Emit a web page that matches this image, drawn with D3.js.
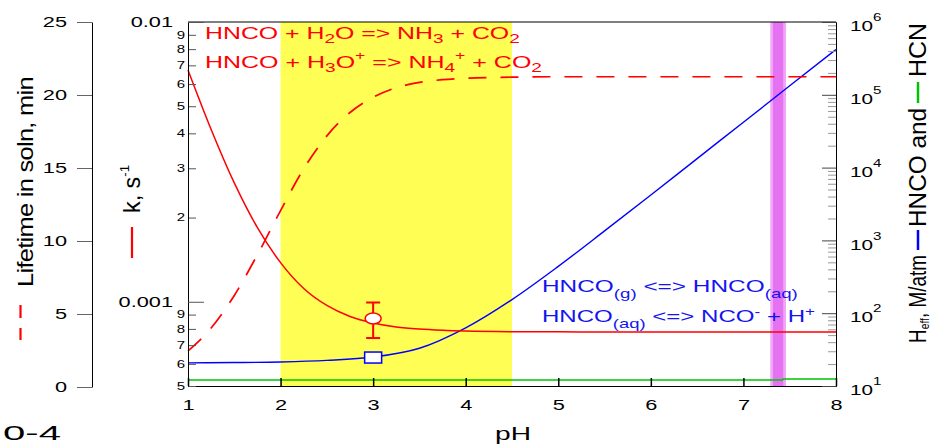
<!DOCTYPE html>
<html>
<head>
<meta charset="utf-8">
<script src="https://cdn.jsdelivr.net/npm/d3@7"></script>
<style>
  body { margin: 0; background: #fff; }
  svg { display: block; }
  text { font-family: "Liberation Sans", Arial, sans-serif; white-space: pre; }
</style>
</head>
<body>
<div id="container"></div>
<script>
// ---- data ----
// pH grid for the two red curves
let pH = [1, 1.25, 1.5, 1.75, 2, 2.25, 2.5, 2.75, 3, 3.25, 3.5, 3.75, 4, 4.5, 5, 5.5, 6, 6.5, 7, 7.5, 8];
// k, s^-1 (solid red, left log axis)
let kValues = [6.74e-3, 4.13e-3, 2.66e-3, 1.84e-3, 1.38e-3, 1.115e-3, 9.7e-4, 8.86e-4, 8.4e-4, 8.13e-4, 7.99e-4,
               7.91e-4, 7.86e-4, 7.82e-4, 7.81e-4, 7.8e-4, 7.8e-4, 7.8e-4, 7.8e-4, 7.8e-4, 7.8e-4];
// lifetime in solution, min (dashed red, far left linear axis)
let lifetimeValues = [2.47, 4.04, 6.27, 9.06, 12.08, 14.95, 17.2, 18.8, 19.84, 20.5, 20.86,
                      21.05, 21.15, 21.22, 21.25, 21.25, 21.25, 21.25, 21.25, 21.25, 21.25];

// H_eff of HNCO, M/atm (blue, right log axis)
let pHBlue = [1, 1.5, 2, 2.5, 3, 3.5, 4, 4.5, 5, 5.5, 6, 6.5, 7, 7.5, 8];
let hncoValues = [20.8, 21, 21.4, 22.5, 25, 33, 63, 154, 440, 1350, 4200, 13300, 42000, 133000, 420000];

// H_eff of HCN, M/atm (green)
let pHGreen = [1, 7.42, 7.43, 8];
let hcnValues = [12.1, 12.1, 12.5, 12.5];

// measured points at pH 3
let pointPH = 3;
let circleK = 8.72e-4;
let circleKLow = 7.42e-4;
let circleKHigh = 9.94e-4;
let squareH = 24.6;

// shaded pH ranges
let yellowBand = [2, 4.5];
let magentaBand = [7.29, 7.46];
let magentaCore = [7.32, 7.43];

// ticks
let xTicks = [1, 2, 3, 4, 5, 6, 7, 8];
let xTickLabels = ["1", "2", "3", "4", "5", "6", "7", "8"];
let lifeTicks = [0, 5, 10, 15, 20, 25];
let kMajorTicks = [0.001, 0.01];
let kMajorLabels = ["0.001", "0.01"];
let kMinorTicks = [5e-4, 6e-4, 7e-4, 8e-4, 9e-4, 2e-3, 3e-3, 4e-3, 5e-3, 6e-3, 7e-3, 8e-3, 9e-3];
let kMinorLabels = ["5", "6", "7", "8", "9", "2", "3", "4", "5", "6", "7", "8", "9"];
let hMajorTicks = [1e1, 1e2, 1e3, 1e4, 1e5, 1e6];
let hExponents = ["1", "2", "3", "4", "5", "6"];
let hMinorMult = [2, 3, 4, 5, 6, 7, 8, 9];
let hDecades = [1e1, 1e2, 1e3, 1e4, 1e5];

// ---- layout ----
let w = 934;
let h = 445;
let plotLeft = 188, plotRight = 836, plotTop = 22, plotBottom = 386;
let stretch = 1.45; // the picture's text is wide, so squeeze it sideways

let viz = d3.select("#container")
  .append("svg")
    .attr("width", w)
    .attr("height", h)
;

let xScale = d3.scaleLinear().domain([1, 8]).range([plotLeft, plotRight]);
let kScale = d3.scaleLog().domain([5e-4, 0.01]).range([plotBottom, plotTop]);
let lifeScale = d3.scaleLinear().domain([0, 25]).range([387, plotTop]);
let hScale = d3.scaleLog().domain([10, 1e6]).range([plotBottom, plotTop]);

// stretch axis labels around their anchor point
function widen(sel, s) {
  sel.each(function() {
    let t = d3.select(this);
    let x = +t.attr("x") || 0;
    let y = +t.attr("y") || 0;
    t.attr("x", 0).attr("y", 0)
     .attr("transform", "translate(" + x + "," + y + ") scale(" + s + ",1)");
  });
}

// scale a text so it covers a given length
function fitText(t, x, y, len, angle) {
  let natural = t.node().getComputedTextLength();
  let s = len / natural;
  t.attr("transform", "translate(" + x + "," + y + ") rotate(" + angle + ") scale(" + s + ",1)");
}

// ---- shaded bands ----
let bands = viz.append("g").classed("bands", true);
bands.append("rect")
  .attr("x", xScale(yellowBand[0]))
  .attr("width", xScale(yellowBand[1]) - xScale(yellowBand[0]))
  .attr("y", plotTop).attr("height", plotBottom - plotTop)
  .attr("fill", "#fefe55");
bands.append("rect")
  .attr("x", xScale(magentaBand[0]))
  .attr("width", xScale(magentaBand[1]) - xScale(magentaBand[0]))
  .attr("y", plotTop).attr("height", plotBottom - plotTop)
  .attr("fill", "#f0a6f6");
bands.append("rect")
  .attr("x", xScale(magentaCore[0]))
  .attr("width", xScale(magentaCore[1]) - xScale(magentaCore[0]))
  .attr("y", plotTop).attr("height", plotBottom - plotTop)
  .attr("fill", "#e472f2");

// ---- curves ----
let graphGroup = viz.append("g").classed("graphGroup", true);

let kLine = d3.line()
  .x((d, i) => xScale(pH[i]))
  .y(d => kScale(d))
  .curve(d3.curveMonotoneX);
let lifeLine = d3.line()
  .x((d, i) => xScale(pH[i]))
  .y(d => lifeScale(d))
  .curve(d3.curveMonotoneX);
let blueLine = d3.line()
  .x((d, i) => xScale(pHBlue[i]))
  .y(d => hScale(d))
  .curve(d3.curveMonotoneX);
let greenLine = d3.line()
  .x((d, i) => xScale(pHGreen[i]))
  .y(d => hScale(d));

graphGroup.append("path")
  .attr("d", greenLine(hcnValues))
  .attr("fill", "none").attr("stroke", "#00c400").attr("stroke-width", 1.6);
graphGroup.append("path")
  .attr("d", blueLine(hncoValues))
  .attr("fill", "none").attr("stroke", "#0000ff").attr("stroke-width", 1.4);
graphGroup.append("path")
  .attr("d", lifeLine(lifetimeValues))
  .attr("fill", "none").attr("stroke", "#ff0000").attr("stroke-width", 1.7)
  .attr("stroke-dasharray", "18,14");
graphGroup.append("path")
  .attr("d", kLine(kValues))
  .attr("fill", "none").attr("stroke", "#ff0000").attr("stroke-width", 1.5);

// measured point with error bar (red) and square (blue)
let px = xScale(pointPH);
graphGroup.append("line")
  .attr("x1", px).attr("x2", px)
  .attr("y1", kScale(circleKHigh)).attr("y2", kScale(circleKLow))
  .attr("stroke", "#ff0000").attr("stroke-width", 2);
[circleKHigh, circleKLow].forEach(function(v) {
  graphGroup.append("line")
    .attr("x1", px - 7).attr("x2", px + 7)
    .attr("y1", kScale(v)).attr("y2", kScale(v))
    .attr("stroke", "#ff0000").attr("stroke-width", 2);
});
graphGroup.append("ellipse")
  .attr("cx", px).attr("cy", kScale(circleK))
  .attr("rx", 8).attr("ry", 5.5)
  .attr("fill", "#fff").attr("stroke", "#ff0000").attr("stroke-width", 1.5);
graphGroup.append("rect")
  .attr("x", px - 8.5).attr("y", hScale(squareH) - 5.5)
  .attr("width", 17).attr("height", 11)
  .attr("fill", "#fff").attr("stroke", "#0000ff").attr("stroke-width", 1.5);

// ---- frame ----
viz.append("line")
  .attr("x1", plotLeft).attr("x2", plotRight).attr("y1", plotTop).attr("y2", plotTop)
  .attr("stroke", "#000").attr("stroke-width", 1);

// ---- axes ----
function styleAxis(g, size, tickColor) {
  g.attr("font-family", null).attr("font-size", null);
  g.selectAll("text").attr("font-size", size).attr("fill", "#000");
  g.selectAll(".tick line").attr("stroke", tickColor);
  g.select(".domain").attr("stroke", "#000");
}

// x axis (pH)
let xAxis = d3.axisBottom(xScale).tickValues(xTicks).tickSize(-8).tickPadding(13).tickSizeOuter(0)
  .tickFormat((d, i) => xTickLabels[i]);
let xAxisGroup = viz.append("g").attr("transform", "translate(0," + plotBottom + ")").call(xAxis);
styleAxis(xAxisGroup, 15, "#000");
xAxisGroup.selectAll(".tick line").attr("stroke-width", 1.5);
widen(xAxisGroup.selectAll("text"), stretch);

// lifetime axis (far left)
let lifeAxis = d3.axisLeft(lifeScale).tickValues(lifeTicks).tickSize(15).tickPadding(10).tickSizeOuter(0);
let lifeGroup = viz.append("g").attr("transform", "translate(92,0)").call(lifeAxis);
styleAxis(lifeGroup, 15, "#666");
widen(lifeGroup.selectAll("text"), stretch);

// k axis, minor then major
let kMinorAxis = d3.axisLeft(kScale).tickValues(kMinorTicks).tickSize(-8).tickPadding(3)
  .tickSizeOuter(0).tickFormat((d, i) => kMinorLabels[i]);
let kMinorGroup = viz.append("g").attr("transform", "translate(" + plotLeft + ",0)").call(kMinorAxis);
styleAxis(kMinorGroup, 10, "#555");
widen(kMinorGroup.selectAll("text"), 1.5);

let kMajorAxis = d3.axisLeft(kScale).tickValues(kMajorTicks).tickSize(-16).tickPadding(15)
  .tickSizeOuter(0).tickFormat((d, i) => kMajorLabels[i]);
let kMajorGroup = viz.append("g").attr("transform", "translate(" + plotLeft + ",0)").call(kMajorAxis);
styleAxis(kMajorGroup, 15, "#555");
widen(kMajorGroup.selectAll("text"), stretch);

// H_eff axis (right), minor then major
let hMinorTicks = [];
hDecades.forEach(dec => hMinorMult.forEach(m => hMinorTicks.push(dec * m)));
let hMinorAxis = d3.axisRight(hScale).tickValues(hMinorTicks).tickSize(-8).tickSizeOuter(0).tickFormat("");
let hMinorGroup = viz.append("g").attr("transform", "translate(" + plotRight + ",0)").call(hMinorAxis);
styleAxis(hMinorGroup, 10, "#999");

let hMajorAxis = d3.axisRight(hScale).tickValues(hMajorTicks).tickSize(-14).tickPadding(14)
  .tickSizeOuter(0).tickFormat("");
let hMajorGroup = viz.append("g").attr("transform", "translate(" + plotRight + ",0)").call(hMajorAxis);
styleAxis(hMajorGroup, 15, "#444");
hMajorGroup.selectAll("text").each(function(d, i) {
  let t = d3.select(this).attr("dy", "0.58em");
  t.append("tspan").text("10");
  t.append("tspan").attr("dy", -10).attr("font-size", 11).text(hExponents[i]);
});
widen(hMajorGroup.selectAll("text"), 1.38);

// ---- reaction labels ----
function addLabel(parts, color, size) {
  let t = viz.append("text").attr("fill", color).attr("font-size", size);
  parts.forEach(function(p) {
    let s = t.append("tspan").text(p[0]);
    if (p[1]) s.attr("dy", p[1]);
    if (p[2]) s.attr("font-size", p[2]);
  });
  return t;
}

let red1 = addLabel([["HNCO + H"], ["2", 4, 13], ["O => NH", -4], ["3", 4, 13], [" + CO", -4], ["2", 4, 13]], "#ff0000", 17);
fitText(red1, 205, 38.5, 315, 0);
let red2 = addLabel([["HNCO + H"], ["3", 4, 13], ["O", -4], ["+", -8, 12], [" => NH", 8], ["4", 4, 13], ["+", -12, 12], [" + CO", 8], ["2", 4, 13]], "#ff0000", 17);
fitText(red2, 205, 67.5, 337, 0);

let blue1 = addLabel([["HNCO"], ["(g)", 5.5, 13], [" <=> HNCO", -5.5], ["(aq)", 5.5, 13]], "#1414f0", 17);
fitText(blue1, 542, 292, 256, 0);
let blue2 = addLabel([["HNCO"], ["(aq)", 5.5, 13], [" <=> NCO", -5.5], ["-", -6, 12], [" + H", 6], ["+", -6, 12]], "#1414f0", 17);
fitText(blue2, 542, 322, 273, 0);

// ---- axis titles ----
let lifeTitle = viz.append("text").attr("font-size", 22).attr("text-anchor", "middle")
  .attr("letter-spacing", -0.6).text("Lifetime in soln, min");
fitText(lifeTitle, 33, 182, 210, -90);
viz.append("line").attr("x1", 20.5).attr("x2", 20.5).attr("y1", 305).attr("y2", 318)
  .attr("stroke", "#ff0000").attr("stroke-width", 2.2);
viz.append("line").attr("x1", 20.5).attr("x2", 20.5).attr("y1", 328).attr("y2", 340)
  .attr("stroke", "#ff0000").attr("stroke-width", 2.2);

let kTitle = addLabel([["k, s"], ["-1", -11, 13]], "#000", 23).attr("text-anchor", "middle");
fitText(kTitle, 140, 189, 48, -90);
viz.append("line").attr("x1", 132).attr("x2", 132).attr("y1", 227).attr("y2", 258)
  .attr("stroke", "#ff0000").attr("stroke-width", 2.2);

// right title, three pieces with coloured line samples between them
let rightBase = 926;
let hTitle1 = addLabel([["H"], ["eff", 3, 13], [", M/atm", -3]], "#000", 24).attr("text-anchor", "middle");
fitText(hTitle1, rightBase, 299, 88, -90);
let hTitle2 = viz.append("text").attr("font-size", 24).attr("text-anchor", "middle").text("HNCO and");
fitText(hTitle2, rightBase, 167.5, 119, -90);
let hTitle3 = viz.append("text").attr("font-size", 24).attr("text-anchor", "middle").text("HCN");
fitText(hTitle3, rightBase, 50, 54, -90);
viz.append("line").attr("x1", 918).attr("x2", 918).attr("y1", 230).attr("y2", 250)
  .attr("stroke", "#0000ff").attr("stroke-width", 2.5);
viz.append("line").attr("x1", 918).attr("x2", 918).attr("y1", 82).attr("y2", 103)
  .attr("stroke", "#00c400").attr("stroke-width", 2.5);

let pHTitle = viz.append("text").attr("font-size", 18).attr("text-anchor", "middle").text("pH");
fitText(pHTitle, 513, 440, 36, 0);

// leftover label in the bottom corner (kept inside the page)
let cutLabel = viz.append("text").attr("font-size", 21).text("0-4");
fitText(cutLabel, 3, 440, 58, 0);
</script>
</body>
</html>
